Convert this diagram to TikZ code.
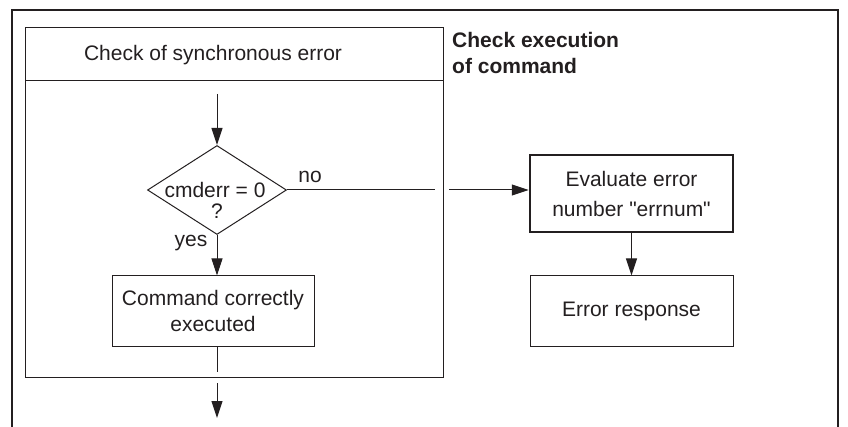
\documentclass[tikz,border=0pt]{standalone}
\usepackage{fontspec}
\setmainfont{Liberation Sans}[Ligatures=TeXOff]
\usetikzlibrary{arrows.meta,shapes.geometric}
\definecolor{ink}{HTML}{231F20}
\tikzset{
  line/.style={draw=ink,line width=1pt},
  arr/.style={line,-{Triangle[length=17pt,width=11pt]}},
  box/.style={line,rectangle,inner sep=0pt,align=center,text=ink},
  txt/.style={inner sep=0pt,text=ink},
}
\begin{document}
\begin{tikzpicture}[x=1pt,y=-1pt,font=\fontsize{21}{27}\selectfont]
\useasboundingbox (0,0) rectangle (848,427);
% outer frame (open at bottom)
\draw[draw=ink,line width=1.5pt] (12,427) -- (12,10) -- (838,10) -- (838,427);
% inner block
\draw[line] (25,28) rectangle (443,377);
\draw[line] (25,81) -- (443,81);
\node[txt] (title) at (213,55) {Check of synchronous error};
\node[txt,anchor=base west,align=left,font=\fontsize{21}{26}\selectfont\bfseries] (head) at (452,74) {Check execution\\of command};
% decision
\node[line,diamond,minimum width=139pt,minimum height=89pt,inner sep=0pt] (dia) at (217,190) {};
\node[txt] (q1) at (215,190) {cmderr = 0};
\node[txt] (q2) at (217,211) {?};
\node[txt] (no) at (310,177) {no};
\node[txt] (yes) at (191,243) {yes};
% boxes
\node[box,minimum width=202pt,minimum height=70pt,font=\fontsize{21}{26}\selectfont] (cmd) at (213,311) {Command correctly\\executed};
\node[box,line width=2.5pt,minimum width=203pt,minimum height=77pt,font=\fontsize{21}{30}\selectfont] (eval) at (631.5,193.5) {Evaluate error\\number "errnum"};
\node[box,minimum width=203pt,minimum height=70pt] (err) at (631.5,311) {Error response};
% coordinates
\coordinate (start) at (217,94);
\coordinate (gapL) at (435,190);
\coordinate (gapR) at (449,190);
\coordinate (cmdEnd) at (217,372);
\coordinate (outS) at (217,383);
\coordinate (outE) at (217,418);
% connectors
\draw[arr] (start) -- (dia.north);
\draw[arr] (dia.south) -- (dia.south |- cmd.north);
\draw[line] (dia.east) -- (gapL);
\draw[arr] (gapR) -- (gapR -| eval.west);
\draw[arr] (eval.south) -- (err.north);
\draw[line] (dia.south |- cmd.south) -- (cmdEnd);
\draw[arr] (outS) -- (outE);
\end{tikzpicture}
\end{document}
